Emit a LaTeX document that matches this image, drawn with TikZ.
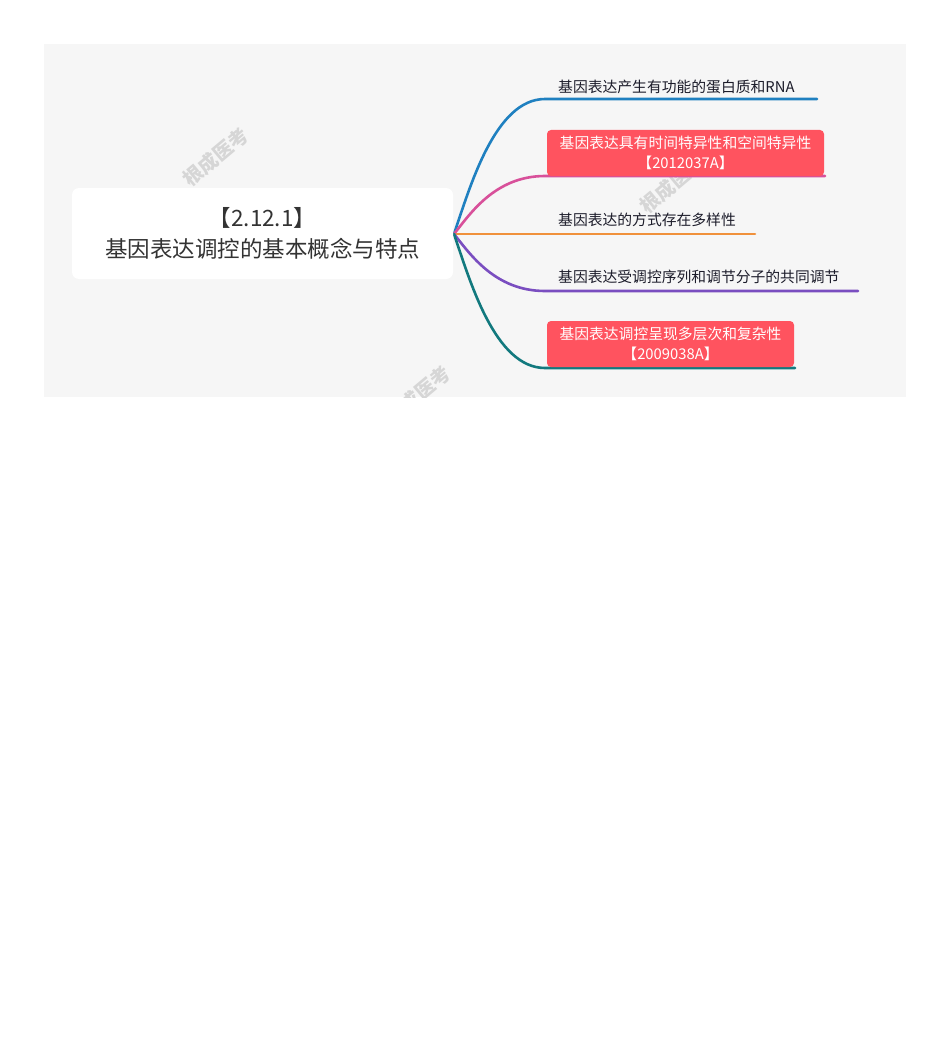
\documentclass[tikz,border=0pt]{standalone}
\usepackage{fontspec}
\setmainfont{Noto Sans CJK SC}
\newfontfamily\cjk{Noto Sans CJK SC}
\definecolor{bggray}{HTML}{F6F6F6}
\definecolor{roottext}{HTML}{333333}
\definecolor{leaftext}{HTML}{1C1C2A}
\definecolor{redbox}{HTML}{FF535F}
\definecolor{cblue}{HTML}{1F80C0}
\definecolor{cpink}{HTML}{D8509A}
\definecolor{corange}{HTML}{F0913C}
\definecolor{cpurple}{HTML}{7A4EC0}
\definecolor{cteal}{HTML}{12797E}
\definecolor{wmark}{HTML}{D6D6D6}
\tikzset{
  branch/.style={line width=2.6pt, line cap=round},
  leaf/.style={anchor=west, inner sep=0pt, text=leaftext, font=\cjk\fontsize{14.8}{16}\selectfont},
  redleaf/.style={fill=redbox, rounded corners=4pt, text=white, align=center, inner sep=0pt, font=\cjk\fontsize{14.8}{19.5}\selectfont},
  wm/.style={text=wmark, rotate=40, font=\cjk\bfseries\fontsize{19.5}{19.5}\selectfont, inner sep=0pt}
}
\begin{document}
\begin{tikzpicture}[x=1pt,y=-1pt]
\useasboundingbox (0,0) rectangle (950,1046);
\fill[white] (0,0) rectangle (950,1046);
\fill[bggray] (44,44) rectangle (906,397);
% watermarks
\begin{scope}
\clip (44,44) rectangle (906,397);
\node[wm] (wm1) at (216,157) {根成医考};
\node[wm] (wm2) at (673,184) {根成医考};
\node[wm] (wm3) at (418,395) {根成医考};
\end{scope}
% branch coordinates
\coordinate (o) at (454,234);
\coordinate (b1s) at (545,99);  \coordinate (b1e) at (817,99);
\coordinate (b2s) at (545,176); \coordinate (b2e) at (825,176);
\coordinate (b3e) at (755,234);
\coordinate (b4s) at (545,291); \coordinate (b4e) at (858,291);
\coordinate (b5s) at (545,368); \coordinate (b5e) at (795,368);
% connectors
\draw[branch, cblue] (o) .. controls (470,187) and (495,99) .. (b1s) -- (b1e);
\draw[branch, cpink] (o) .. controls (470,214) and (495,176) .. (b2s) -- (b2e);
\draw[branch, corange] (o) -- (b3e);
\draw[branch, cpurple] (o) .. controls (470,254) and (495,291) .. (b4s) -- (b4e);
\draw[branch, cteal] (o) .. controls (470,281) and (495,368) .. (b5s) -- (b5e);
% root
\node[fill=white, rounded corners=7pt, minimum width=381pt, minimum height=91pt, inner sep=0pt,
      align=center, text=roottext, font=\cjk\fontsize{22.5}{31}\selectfont] (root) at (262.5,233.5)
      {【2.12.1】\\基因表达调控的基本概念与特点};
% leaves
\node[leaf] (l1) at (558,87) {基因表达产生有功能的蛋白质和RNA};
\node[redleaf, minimum width=277pt, minimum height=46pt] (l2) at (685.5,153) {基因表达具有时间特异性和空间特异性\\【2012037A】};
\node[leaf] (l3) at (558,220) {基因表达的方式存在多样性};
\node[leaf] (l4) at (558,277) {基因表达受调控序列和调节分子的共同调节};
\node[redleaf, minimum width=247pt, minimum height=46pt] (l5) at (670.5,344) {基因表达调控呈现多层次和复杂性\\【2009038A】};
\end{tikzpicture}
\end{document}
